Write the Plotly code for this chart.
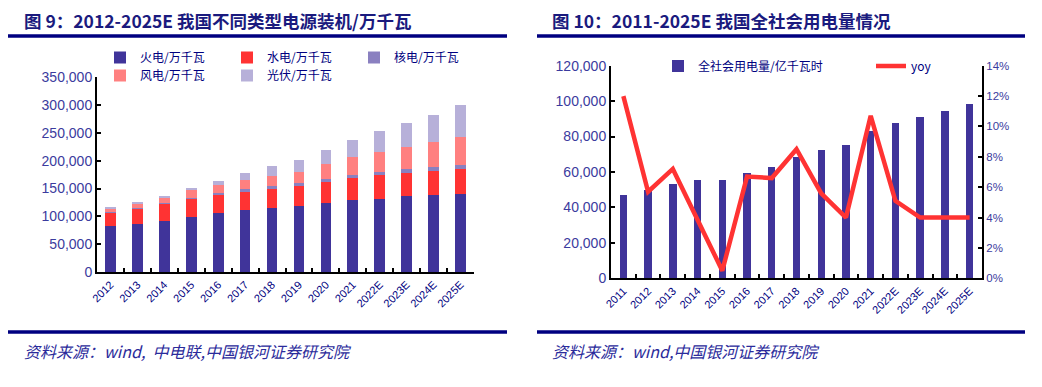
import plotly.graph_objects as go

# page body has an 8px margin: figure is sized to fit the 1042x387 window exactly
OFF = 8
W, H = 1042 - 2 * OFF, 387 - 2 * OFF

# ---------------- data ----------------
years_cap = ["2012", "2013", "2014", "2015", "2016", "2017", "2018", "2019", "2020", "2021",
             "2022E", "2023E", "2024E", "2025E"]
thermal = [81968, 86238, 91569, 99021, 105388, 110604, 114408, 118957, 124517, 129678,
           132000, 136000, 138000, 140000]
hydro = [24947, 28044, 30486, 31954, 33207, 34359, 35226, 35804, 37016, 39092,
         42000, 41800, 43300, 44600]
nuclear = [1257, 1466, 2008, 2717, 3364, 3582, 4466, 4874, 4989, 5326,
           5800, 7000, 7500, 8000]
wind = [6142, 7652, 9657, 13075, 14747, 16367, 18427, 20915, 28153, 32848,
        36000, 40000, 45000, 50500]
solar = [341, 1589, 2486, 4218, 7631, 13025, 17433, 20418, 25343, 30656,
         37000, 43000, 48500, 57500]

years_use = ["2011", "2012", "2013", "2014", "2015", "2016", "2017", "2018", "2019", "2020",
             "2021", "2022E", "2023E", "2024E", "2025E"]
consumption = [46928, 49591, 53223, 55233, 55500, 59198, 63077, 68449, 72255, 75110,
               83128, 87700, 91000, 94500, 98400]
yoy = [12.0, 5.7, 7.2, 3.8, 0.5, 6.7, 6.6, 8.5, 5.6, 4.0, 10.7, 5.1, 4.0, 4.0, 4.0]

# ---------------- styles ----------------
NAVY = "#000080"
TITLE_C = "#1A1A7E"
TICK_C = "#3B3B9E"
C_FIRE = "#40349A"
C_WATER = "#FF3333"
C_NUC = "#8A80C0"
C_WIND = "#FF8080"
C_SOLAR = "#B7B0D9"
CJK = "Noto Sans CJK SC"
LAT = "Liberation Sans"


def px(x):
    return (x - OFF) / W


def py(y):
    return 1 - (y - OFF) / H


fig = go.Figure()

series = [("火电/万千瓦", thermal, C_FIRE, "legend"),
          ("水电/万千瓦", hydro, C_WATER, "legend"),
          ("核电/万千瓦", nuclear, C_NUC, "legend"),
          ("风电/万千瓦", wind, C_WIND, "legend2"),
          ("光伏/万千瓦", solar, C_SOLAR, "legend2")]
for name, vals, col, lg in series:
    fig.add_trace(go.Bar(x=years_cap, y=vals, name=name, marker=dict(color=col, line=dict(width=0)),
                         width=0.4, xaxis="x", yaxis="y", legend=lg))

fig.add_trace(go.Bar(x=years_use, y=consumption, name="全社会用电量/亿千瓦时",
                     marker=dict(color=C_FIRE, line=dict(width=0)), width=0.3,
                     xaxis="x2", yaxis="y3", legend="legend3"))
fig.add_trace(go.Scatter(x=years_use, y=yoy, name="yoy", mode="lines",
                         line=dict(color="#FF3333", width=4.5),
                         xaxis="x2", yaxis="y4", legend="legend4"))

tickfont = dict(family=LAT, size=14, color=TICK_C)
xfont = dict(family=LAT, size=11, color=NAVY)

axis_common = dict(showline=True, linecolor="black", linewidth=2, showgrid=False,
                   zeroline=False, ticks="inside", ticklen=4, tickcolor="black", tickwidth=2)

leg_common = dict(orientation="h", xanchor="left", yanchor="middle", bgcolor="rgba(0,0,0,0)",
                  itemwidth=30, traceorder="normal", entrywidthmode="pixels")
leg_font = dict(family=CJK, size=12, color=NAVY)

fig.update_layout(
    width=W, height=H,
    margin=dict(l=0, r=0, t=0, b=0, autoexpand=False),
    paper_bgcolor="white", plot_bgcolor="white",
    barmode="stack",
    xaxis=dict(domain=[px(97), px(474)], anchor="y", tickangle=-45, tickfont=xfont,
               tickson="boundaries", **axis_common),
    yaxis=dict(domain=[py(272), py(77.3)], anchor="x", range=[0, 350000], dtick=50000,
               tickformat=",", tickfont=tickfont, **axis_common),
    xaxis2=dict(domain=[px(611), px(982)], anchor="y3", tickangle=-45, tickfont=xfont,
                tickson="boundaries", **axis_common),
    yaxis3=dict(domain=[py(278.3), py(65.7)], anchor="x2", range=[0, 120000], dtick=20000,
                tickformat=",", tickfont=tickfont, **axis_common),
    yaxis4=dict(overlaying="y3", side="right", anchor="x2", range=[0, 14], dtick=2,
                ticksuffix="%", tickfont=dict(family=LAT, size=11.5, color=TICK_C), **axis_common),
    legend=dict(x=px(100), y=py(57.5), entrywidth=82, font=leg_font, **leg_common),
    legend2=dict(x=px(100), y=py(75.5), entrywidth=82, font=leg_font, **leg_common),
    legend3=dict(x=px(658), y=py(66), entrywidth=0, font=leg_font, **leg_common),
    legend4=dict(x=px(871), y=py(66), entrywidth=0, font=leg_font, **leg_common),
    showlegend=True,
)

# titles, rules and footers
titles = [(22, "图 9：2012-2025E 我国不同类型电源装机/万千瓦"),
          (550, "图 10：2011-2025E 我国全社会用电量情况")]
for x0, t in titles:
    fig.add_annotation(x=px(x0), y=py(20), xref="paper", yref="paper", text="<b>" + t + "</b>",
                       showarrow=False, xanchor="left", yanchor="middle",
                       font=dict(family=CJK, size=17.5, color=TITLE_C))

footers = [(22, "资料来源：wind,  中电联,中国银河证券研究院"),
           (550, "资料来源：wind,中国银河证券研究院")]
for x0, t in footers:
    fig.add_annotation(x=px(x0), y=py(351), xref="paper", yref="paper", text="<i>" + t + "</i>",
                       showarrow=False, xanchor="left", yanchor="middle",
                       font=dict(family=CJK, size=16, color="#2B2B9B"))

for (a, b) in [(8, 507), (537, 1025)]:
    for yy in (36, 332):
        fig.add_shape(type="line", xref="paper", yref="paper", x0=px(a), x1=px(b),
                      y0=py(yy), y1=py(yy), line=dict(color=NAVY, width=3.5))

fig.write_html("out.html")
